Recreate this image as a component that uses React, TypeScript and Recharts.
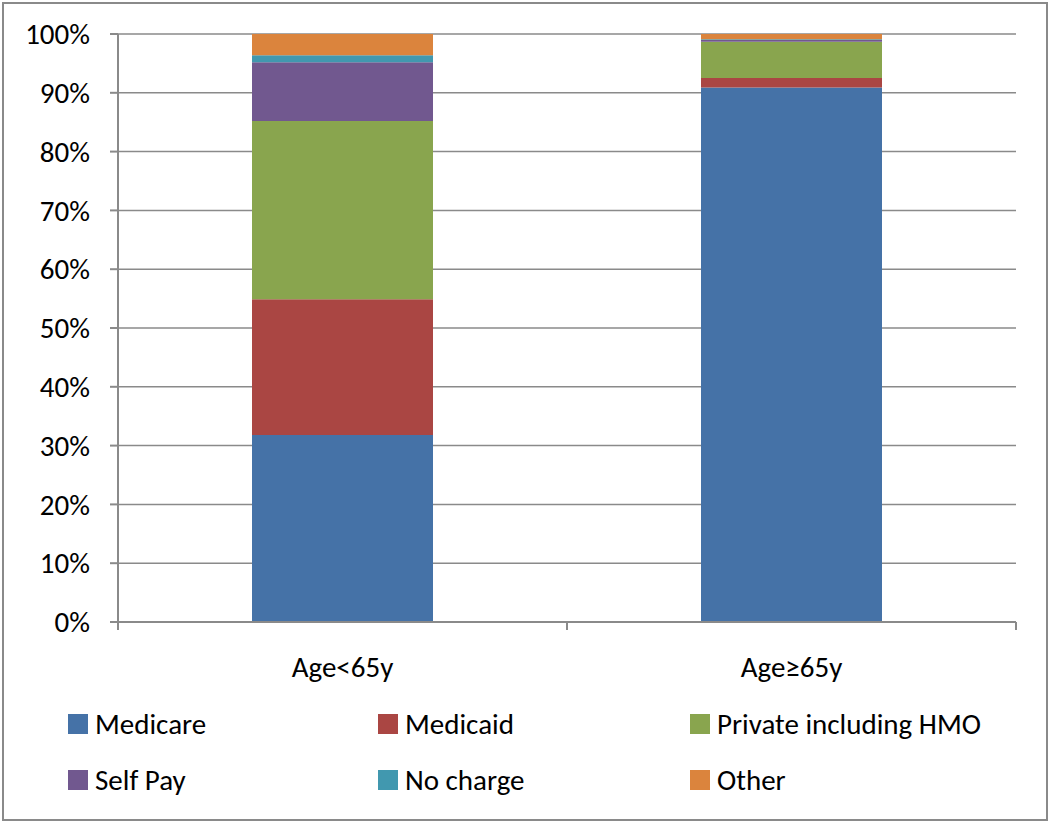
import { BarChart, Bar, XAxis, YAxis, CartesianGrid } from 'recharts';

const categories = ['Age<65y', 'Age≥65y'];

// percent of patients per payer
const medicare = [31.8, 90.9];
const medicaid = [23.1, 1.6];
const privateHmo = [30.3, 6.2];
const selfPay = [10.0, 0.3];
const noCharge = [1.2, 0.1];
const other = [3.6, 0.9];

const yTicks = [0, 10, 20, 30, 40, 50, 60, 70, 80, 90, 100];
const boundaryTicks = [0, 1, 2];

const SERIES = [
  { key: 'medicare', name: 'Medicare', values: medicare, color: '#4572A7' },
  { key: 'medicaid', name: 'Medicaid', values: medicaid, color: '#AA4643' },
  { key: 'privateHmo', name: 'Private including HMO', values: privateHmo, color: '#89A54E' },
  { key: 'selfPay', name: 'Self Pay', values: selfPay, color: '#71588F' },
  { key: 'noCharge', name: 'No charge', values: noCharge, color: '#4198AF' },
  { key: 'other', name: 'Other', values: other, color: '#DB843D' },
];

const chartData = categories.map((category, i) => {
  const row: Record<string, string | number> = { category, idx: i + 0.5 };
  SERIES.forEach((s) => {
    row[s.key] = s.values[i];
  });
  return row;
});

const FONT = 'Carlito, Calibri, "Liberation Sans", Arial, sans-serif';
const GRID = '#8a8a8a';
const TEXT = '#000';
const FS = 29;

export default function App() {
  return (
    <div
      style={{
        position: 'absolute',
        left: 0,
        top: 0,
        width: 1050,
        height: 823,
        background: '#fff',
        fontFamily: FONT,
      }}
    >
      <div
        style={{
          position: 'absolute',
          left: 2,
          top: 2,
          width: 1042,
          height: 815,
          border: '2px solid #8a8a8a',
        }}
      />
      <div style={{ position: 'absolute', left: 0, top: 0 }}>
        <BarChart
          width={1050}
          height={690}
          data={chartData}
          margin={{ top: 34, right: 34, bottom: 0, left: 0 }}
          barSize={181}
        >
          <CartesianGrid
            xAxisId="b_cat"
            vertical={false}
            stroke={GRID}
            strokeWidth={1.5}
          />
          <XAxis
            xAxisId="b_cat"
            dataKey="category"
            height={67}
            axisLine={false}
            tickLine={false}
            tickMargin={27}
            tick={{ fill: TEXT, fontSize: FS, fontFamily: FONT }}
          />
          {/* ticks at the category boundaries, as in the original */}
          <XAxis
            xAxisId="a_edge"
            type="number"
            dataKey="idx"
            domain={[0, 2]}
            ticks={boundaryTicks}
            interval={0}
            height={1}
            tickFormatter={() => ''}
            tickSize={8}
            axisLine={{ stroke: GRID, strokeWidth: 2 }}
            tickLine={{ stroke: GRID, strokeWidth: 2 }}
          />
          <YAxis
            width={118}
            domain={[0, 100]}
            ticks={yTicks}
            interval={0}
            tickFormatter={(v: number) => `${v}%`}
            tickSize={8}
            tickMargin={20}
            axisLine={{ stroke: GRID, strokeWidth: 2 }}
            tickLine={{ stroke: GRID, strokeWidth: 2 }}
            tick={{ fill: TEXT, fontSize: FS, fontFamily: FONT }}
          />
          {SERIES.map((s) => (
            <Bar
              key={s.key}
              xAxisId="b_cat"
              dataKey={s.key}
              name={s.name}
              stackId="payer"
              fill={s.color}
              isAnimationActive={false}
            />
          ))}
        </BarChart>
      </div>
      <div
        style={{
          position: 'absolute',
          left: 68,
          top: 704,
          width: 960,
          display: 'grid',
          gridTemplateColumns: '310px 312px 330px',
          rowGap: 16,
          fontSize: FS,
          color: TEXT,
        }}
      >
        {SERIES.map((s) => (
          <div
            key={s.key}
            style={{ display: 'flex', alignItems: 'center', height: 40, whiteSpace: 'nowrap' }}
          >
            <span
              style={{
                display: 'inline-block',
                width: 20,
                height: 20,
                background: s.color,
                marginRight: 7,
                flexShrink: 0,
              }}
            />
            {s.name}
          </div>
        ))}
      </div>
    </div>
  );
}
